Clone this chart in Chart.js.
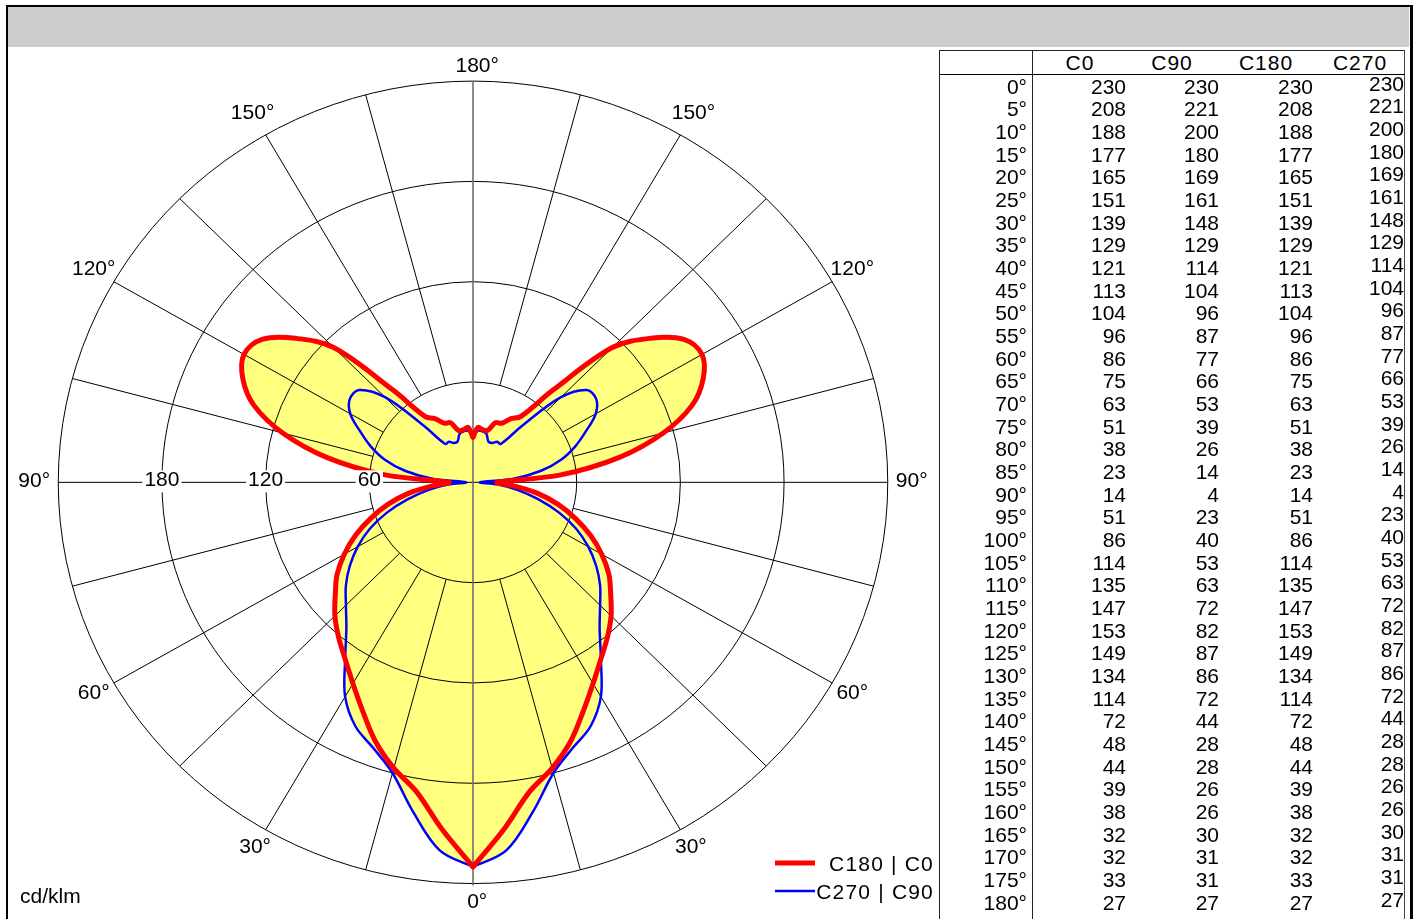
<!DOCTYPE html>
<html>
<head>
<meta charset="utf-8">
<script src="https://cdn.jsdelivr.net/npm/chart.js@4.4.1/dist/chart.umd.min.js"></script>
<style>
  html, body { margin: 0; padding: 0; background: #fff; width: 1418px; height: 919px; overflow: hidden; }
  body { font-family: "Liberation Sans", Arial, sans-serif; position: relative; }
  #frame { position: absolute; left: 6px; top: 5px; width: 1402px; height: 1000px; border: 2px solid #000; border-right-width: 3px; }
  #header { position: absolute; left: 8px; top: 7px; width: 1401px; height: 40px; background: #cccccc; }
  #wrap { position: absolute; left: 9px; top: 48px; width: 928px; height: 871px; }
  .ln { position: absolute; background: #000; }
  .tx { position: absolute; font-size: 21px; line-height: 24px; height: 24px; color: #000; white-space: nowrap; }
</style>
</head>
<body>
<div id="frame"></div>
<div id="header"></div>
<div id="wrap"><canvas id="polar" width="928" height="871"></canvas></div>
<div id="table"></div>
<script>
//gamma angles (deg) of the table rows
const gammaAngles = [0, 5, 10, 15, 20, 25, 30, 35, 40, 45, 50, 55, 60, 65, 70, 75, 80, 85, 90,
  95, 100, 105, 110, 115, 120, 125, 130, 135, 140, 145, 150, 155, 160, 165, 170, 175, 180];
//intensity in cd/klm for each C-plane
const c0 = [230, 208, 188, 177, 165, 151, 139, 129, 121, 113, 104, 96, 86, 75, 63, 51, 38, 23, 14,
  51, 86, 114, 135, 147, 153, 149, 134, 114, 72, 48, 44, 39, 38, 32, 32, 33, 27];
const c90 = [230, 221, 200, 180, 169, 161, 148, 129, 114, 104, 96, 87, 77, 66, 53, 39, 26, 14, 4,
  23, 40, 53, 63, 72, 82, 87, 86, 72, 44, 28, 28, 26, 26, 30, 31, 31, 27];
const c180 = [230, 208, 188, 177, 165, 151, 139, 129, 121, 113, 104, 96, 86, 75, 63, 51, 38, 23, 14,
  51, 86, 114, 135, 147, 153, 149, 134, 114, 72, 48, 44, 39, 38, 32, 32, 33, 27];
const c270 = [230, 221, 200, 180, 169, 161, 148, 129, 114, 104, 96, 87, 77, 66, 53, 39, 26, 14, 4,
  23, 40, 53, 63, 72, 82, 87, 86, 72, 44, 28, 28, 26, 26, 30, 31, 31, 27];
//grid rings and labels
const ringValues = [60, 120, 180, 240];
const tickLabels = ["60", "120", "180"];
const angleLabels = [0, 30, 60, 90, 120, 150, 180];
const legendLabels = ["C180 | C0", "C270 | C90"];
const tableHeaders = ["C0", "C90", "C180", "C270"];

const RED = "#ff0000";
const BLUE = "#0000ff";
const FILL = "#ffff80";
const FONT = '21px "Liberation Sans", Arial, sans-serif';

//polar -> cartesian, gamma 0 points down, side -1 = left half
const toXY = (values, side) =>
  values.map((v, i) => {
    const a = gammaAngles[i] * Math.PI / 180;
    return { x: side * v * Math.sin(a), y: -v * Math.cos(a) };
  });

const lineStyle = (color, width) => ({
  borderColor: color,
  borderWidth: width,
  backgroundColor: color,
  fill: false,
  showLine: true,
  pointRadius: 0,
  tension: 0.35,
  borderJoinStyle: "round",
  borderCapStyle: "round",
});

//fill under the curves, then the polar grid
const polarGrid = {
  id: "polarGrid",
  beforeDatasetsDraw(chart) {
    const ctx = chart.ctx;
    const xs = chart.scales.x;
    const ys = chart.scales.y;
    const px = (x) => xs.getPixelForValue(x);
    const py = (y) => ys.getPixelForValue(y);
    ctx.save();
    ctx.fillStyle = FILL;
    chart.data.datasets.forEach((ds, i) => {
      const line = chart.getDatasetMeta(i).dataset;
      line.updateControlPoints(chart.chartArea, "x");
      ctx.beginPath();
      line.path(ctx);
      ctx.closePath();
      ctx.fill();
    });
    const cx = px(0), cy = py(0);
    ctx.strokeStyle = "#000";
    ctx.lineWidth = 1;
    //rings
    for (const r of ringValues) {
      ctx.beginPath();
      ctx.ellipse(cx, cy, px(r) - cx, cy - py(r), 0, 0, Math.PI * 2);
      ctx.stroke();
    }
    //spokes every 15 deg, from first ring outwards
    for (let a = 15; a < 360; a += 15) {
      if (a % 90 === 0) continue;
      const t = a * Math.PI / 180;
      ctx.beginPath();
      ctx.moveTo(px(60 * Math.sin(t)), py(-60 * Math.cos(t)));
      ctx.lineTo(px(240 * Math.sin(t)), py(-240 * Math.cos(t)));
      ctx.stroke();
    }
    //horizontal axis
    ctx.beginPath();
    ctx.moveTo(px(-240), cy);
    ctx.lineTo(px(240), cy);
    ctx.stroke();
    //vertical axis
    ctx.strokeStyle = "#6e6e6e";
    ctx.lineWidth = 1.6;
    ctx.beginPath();
    ctx.moveTo(cx, py(240));
    ctx.lineTo(cx, py(-240) + 2);
    ctx.stroke();
    ctx.restore();
  },
  afterDraw(chart) {
    const ctx = chart.ctx;
    const xs = chart.scales.x;
    const ys = chart.scales.y;
    const px = (x) => xs.getPixelForValue(x);
    const py = (y) => ys.getPixelForValue(y);
    const cx = px(0), cy = py(0);
    const area = chart.chartArea;
    ctx.save();
    ctx.font = FONT;
    ctx.fillStyle = "#000";
    ctx.textBaseline = "alphabetic";
    //radial tick labels on the left axis
    tickLabels.forEach((lab, i) => {
      const x = px(-ringValues[i]);
      const w = ctx.measureText(lab).width;
      ctx.fillStyle = "#fff";
      ctx.fillRect(x - w / 2 - 2, cy - 12, w + 4, 22);
      ctx.fillStyle = "#000";
      ctx.textAlign = "center";
      ctx.fillText(lab, x, cy + 4);
    });
    //angle labels round the outer ring
    const degW = ctx.measureText("°").width;
    for (const side of [-1, 1]) {
      for (const g of angleLabels) {
        if (side === 1 && (g === 0 || g === 180)) continue;
        const t = g * Math.PI / 180;
        const ex = px(side * 240 * Math.sin(t));
        const ey = py(-240 * Math.cos(t));
        const dx = ex - cx, dy = ey - cy;
        const len = Math.hypot(dx, dy);
        const s = Math.abs(Math.sin(t));
        const pad = 17 + 7 * s + (g === 150 ? 5 : 0);
        let lx = ex + dx / len * pad;
        const ly = ey + dy / len * pad - 3 * s;
        if (s < 0.01) lx += degW / 2;
        ctx.textAlign = "center";
        ctx.fillText(g + "°", lx, ly + 7.5);
      }
    }
    //unit
    ctx.textAlign = "left";
    ctx.fillText("cd/klm", area.left + 11, area.bottom - 16);
    //legend
    const colors = [RED, BLUE];
    const widths = [5, 2.5];
    const rowsY = [area.bottom - 52, area.bottom - 24];
    legendLabels.forEach((lab, i) => {
      ctx.strokeStyle = colors[i];
      ctx.lineWidth = widths[i];
      ctx.lineCap = "butt";
      ctx.beginPath();
      ctx.moveTo(area.right - 162, rowsY[i] - 4);
      ctx.lineTo(area.right - 122, rowsY[i] - 4);
      ctx.stroke();
      ctx.letterSpacing = "1.2px";
      ctx.textAlign = "right";
      ctx.fillStyle = "#000";
      ctx.fillText(lab, area.right - 3, rowsY[i] + 4);
    });
    ctx.restore();
  },
};

new Chart(document.getElementById("polar"), {
  type: "scatter",
  plugins: [polarGrid],
  data: {
    datasets: [
      { label: "C180", data: toXY(c180, -1), ...lineStyle(RED, 5) },
      { label: "C0", data: toXY(c0, 1), ...lineStyle(RED, 5) },
      { label: "C270", data: toXY(c270, -1), ...lineStyle(BLUE, 2.5) },
      { label: "C90", data: toXY(c90, 1), ...lineStyle(BLUE, 2.5) },
    ],
  },
  options: {
    responsive: false,
    animation: false,
    layout: { padding: 0 },
    scales: {
      x: { type: "linear", min: -268.5, max: 268.5, display: false },
      y: { type: "linear", min: -261.2, max: 259.8, display: false },
    },
    plugins: {
      legend: { display: false },
      tooltip: { enabled: false },
    },
  },
});

//value table on the right
const table = document.getElementById("table");
const addLine = (l, t, w, h, color) => {
  const d = document.createElement("div");
  d.className = "ln";
  d.style.cssText = `left:${l}px;top:${t}px;width:${w}px;height:${h}px;background:${color || "#000"}`;
  table.appendChild(d);
};
const addText = (txt, right, yc, extra) => {
  const d = document.createElement("div");
  d.className = "tx";
  d.textContent = txt;
  d.style.cssText = `left:${right - 100}px;width:100px;text-align:right;top:${yc - 12}px;${extra || ""}`;
  table.appendChild(d);
};
addLine(939, 50, 1, 869, "#222");
addLine(1032, 50, 1, 869, "#222");
addLine(1404, 50, 1, 869, "#444");
addLine(939, 50, 466, 1, "#222");
addLine(939, 74, 466, 1, "#000");

const headCenters = [1080, 1172, 1266, 1360];
tableHeaders.forEach((h, i) => {
  const d = document.createElement("div");
  d.className = "tx";
  d.textContent = h;
  d.style.cssText = `left:${headCenters[i] - 50}px;width:100px;text-align:center;top:${63 - 12}px;letter-spacing:1px`;
  table.appendChild(d);
});

const colRight = [1126, 1219, 1313, 1404];
const colShift = [0, 0, 0, -3];
const columns = [c0, c90, c180, c270];
gammaAngles.forEach((g, r) => {
  const yc = 86.7 + r * 22.67;
  addText(g + "°", 1027, yc);
  columns.forEach((col, c) => addText(String(col[r]), colRight[c], yc + colShift[c]));
});
</script>
</body>
</html>
